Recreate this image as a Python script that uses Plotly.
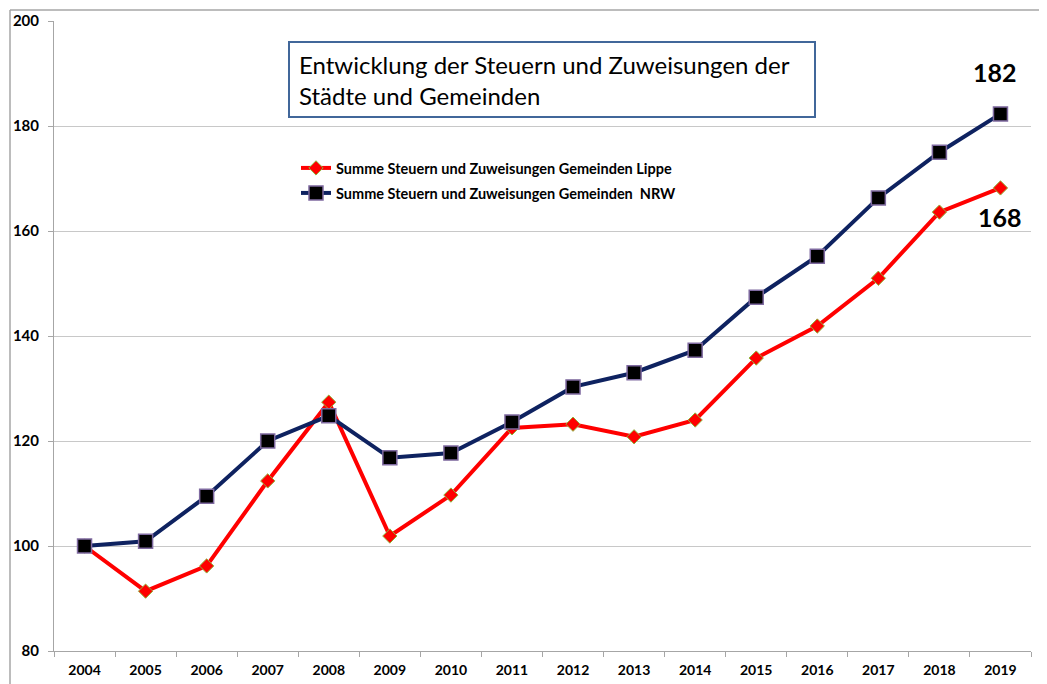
import plotly.graph_objects as go

years = ["2004", "2005", "2006", "2007", "2008", "2009", "2010", "2011",
         "2012", "2013", "2014", "2015", "2016", "2017", "2018", "2019"]
lippe = [100, 91.4, 96.2, 112.4, 127.4, 101.9, 109.7, 122.5,
         123.2, 120.8, 124.0, 135.8, 141.9, 151.0, 163.6, 168.2]
nrw = [100, 100.9, 109.5, 120.0, 124.8, 116.8, 117.7, 123.6,
       130.3, 133.0, 137.3, 147.4, 155.2, 166.3, 175.0, 182.3]
y_ticks = [80, 100, 120, 140, 160, 180, 200]

name_lippe = "Summe Steuern und Zuweisungen Gemeinden Lippe"
name_nrw = "Summe Steuern und Zuweisungen Gemeinden  NRW"
title_text = "Entwicklung der Steuern und Zuweisungen der<br>Städte und Gemeinden"

FONT = "Lato"
OFF = 8  # page body margin
W, H = 1047 - OFF, 684 - OFF
# plot area in page pixels: x 54..1031, y 21..651
ML, MT = 54 - OFF, 21 - OFF
MR = W - (1031 - OFF)
MB = H - (651 - OFF)
PW, PH = W - ML - MR, H - MT - MB

def px(x):
    return (x - OFF - ML) / PW

def py(y):
    return (H - MB - (y - OFF)) / PH

fig = go.Figure()
fig.add_trace(go.Scatter(
    x=years, y=lippe, name=name_lippe, mode="lines+markers", legend="legend",
    line=dict(color="#FF0000", width=4),
    marker=dict(symbol="diamond", size=11, color="#FF0000",
                line=dict(color="#8DB43A", width=1)),
))
fig.add_trace(go.Scatter(
    x=years, y=nrw, name=name_nrw, mode="lines+markers", legend="legend2",
    line=dict(color="#0E2260", width=4),
    marker=dict(symbol="square", size=14, color="#000000",
                line=dict(color="#7F6AA0", width=1.5)),
))

last = len(years) - 1
fig.add_annotation(x=last, y=190.3, xref="x", yref="y",
                   text=f"<b>{round(nrw[-1])}</b>", showarrow=False,
                   xshift=-5, font=dict(family=FONT, size=25, color="#000000"))
fig.add_annotation(x=last, y=162.6, xref="x", yref="y",
                   text=f"<b>{round(lippe[-1])}</b>", showarrow=False,
                   xshift=0, font=dict(family=FONT, size=25, color="#000000"))

# title box
fig.add_shape(type="rect", xref="paper", yref="paper",
              x0=px(289), x1=px(815), y0=py(117), y1=py(42),
              line=dict(color="#41679A", width=2), fillcolor="white", layer="below")
fig.add_annotation(xref="paper", yref="paper", x=px(297), y=py(80),
                   xanchor="left", yanchor="middle", align="left",
                   text=title_text, showarrow=False,
                   font=dict(family=FONT, size=24, color="#000000"))

# outer frame
fig.add_shape(type="line", xref="paper", yref="paper",
              x0=px(10), x1=px(1047), y0=py(10), y1=py(10),
              line=dict(color="#A6A6A6", width=1.5))
fig.add_shape(type="line", xref="paper", yref="paper",
              x0=px(10), x1=px(10), y0=py(10), y1=py(684),
              line=dict(color="#A6A6A6", width=1.5))

legend_font = dict(family=FONT, size=14.5, color="#000000", weight="bold")
fig.update_layout(
    width=W, height=H,
    margin=dict(l=ML, r=MR, t=MT, b=MB, autoexpand=False),
    paper_bgcolor="white", plot_bgcolor="white",
    showlegend=True,
    legend=dict(x=px(296), y=py(168), xanchor="left", yanchor="middle",
                bgcolor="rgba(0,0,0,0)", font=legend_font),
    legend2=dict(x=px(296), y=py(193), xanchor="left", yanchor="middle",
                 bgcolor="rgba(0,0,0,0)", font=legend_font),
    xaxis=dict(type="category", range=[-0.5, len(years) - 0.5],
               tickson="boundaries", ticks="outside", automargin=False,
               ticklen=5, tickcolor="#A6A6A6", showgrid=False, tickangle=0,
               ticklabelstandoff=6,
               showline=True, linecolor="#A6A6A6", linewidth=1,
               tickfont=dict(family=FONT, size=14, color="#000000", weight="bold")),
    yaxis=dict(range=[80, 200], tickvals=y_ticks, ticks="outside", ticklen=5,
               automargin=False, ticklabelstandoff=6,
               tickcolor="#A6A6A6", showgrid=True, gridcolor="#C8C8C8", gridwidth=1,
               showline=True, linecolor="#A6A6A6", linewidth=1, zeroline=False,
               tickfont=dict(family=FONT, size=15, color="#000000", weight="bold")),
)

fig.write_html("out.html")
